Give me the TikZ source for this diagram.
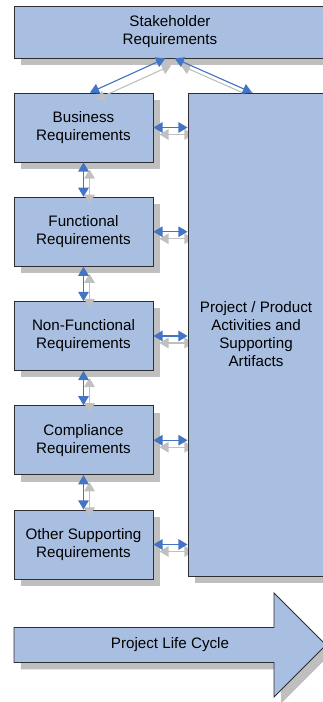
\documentclass[tikz,border=0pt]{standalone}
\usepackage{fontspec}
\setmainfont{Liberation Sans}
\usetikzlibrary{positioning}
\usetikzlibrary{arrows.meta}
\usetikzlibrary{shadows}
\definecolor{boxblue}{RGB}{169,191,226}
\definecolor{boxline}{RGB}{45,45,50}
\definecolor{shadowgrey}{RGB}{191,191,191}
\definecolor{linkblue}{RGB}{68,116,196}
\definecolor{ghostgrey}{RGB}{192,192,192}
\pgfdeclarelayer{front}
\pgfsetlayers{main,front}

\begin{document}
\begin{tikzpicture}[
    req/.style={draw=boxline, fill=boxblue, line width=0.6pt, align=center,
        minimum width=3.475cm, minimum height=1.725cm, inner sep=1pt,
        font=\fontsize{10.8}{12.8}\selectfont,
        drop shadow={shadow xshift=0.17cm, shadow yshift=-0.17cm, fill=shadowgrey, opacity=1}},
    link/.style={{Triangle[length=6.5pt,width=7.5pt]}-{Triangle[length=6.5pt,width=7.5pt]},
        draw=linkblue, line width=0.8pt},
    ghost/.style={link, draw=ghostgrey, transform canvas={xshift=0.15cm, yshift=-0.175cm}}]
        \useasboundingbox (0,0) rectangle (8.05,-17.55);

        \node[req, minimum width=7.8cm, minimum height=1.3cm] (stake) at (4.25,-0.8) {Stakeholder\\Requirements};
        \node[req] (bus) at (2.0875,-3.1875) {Business\\Requirements};
        \node[req, below=0.86cm of bus] (func) {Functional\\Requirements};
        \node[req, below=0.86cm of func] (nonf) {Non-Functional\\Requirements};
        \node[req, below=0.86cm of nonf] (comp) {Compliance\\Requirements};
        \node[req, below=0.86cm of comp] (other) {Other Supporting\\Requirements};
        \begin{pgfonlayer}{front}
            \node[req, minimum width=3.4cm, minimum height=12.075cm] (proj) at (6.4,-8.3625)
                {Project / Product\\Activities and\\Supporting\\Artifacts};
        \end{pgfonlayer}

        % life cycle arrow
        \path[draw=boxline, fill=boxblue, line width=0.6pt,
            drop shadow={shadow xshift=0.17cm, shadow yshift=-0.17cm, fill=shadowgrey, opacity=1}]
            (0.35,-15.6875) -- (6.85,-15.6875) -- (6.85,-14.825) -- (8.15,-16.125)
            -- (6.85,-17.425) -- (6.85,-16.5625) -- (0.35,-16.5625) -- cycle;
        \node[font=\fontsize{10.8}{12.8}\selectfont] (cycle) at (4.25,-16.125) {Project Life Cycle};

        % grey copies
        \draw[ghost] ([xshift=-0.12cm]stake.south) -- ([xshift=0.16cm]bus.north);
        \draw[ghost] ([xshift=0.12cm]stake.south) -- ([xshift=-0.1cm]proj.north);
        \foreach \a/\b in {bus/func, func/nonf, nonf/comp, comp/other}
            \draw[ghost] (\a.south) -- (\b.north);
        \foreach \a in {bus, func, nonf, comp, other}
            \draw[ghost] (\a.east) -- (\a.east -| proj.west);

        \begin{pgfonlayer}{front}
            \draw[link] ([xshift=-0.12cm]stake.south) -- ([xshift=0.16cm]bus.north);
            \draw[link] ([xshift=0.12cm]stake.south) -- ([xshift=-0.1cm]proj.north);
            \foreach \a/\b in {bus/func, func/nonf, nonf/comp, comp/other}
                \draw[link] (\a.south) -- (\b.north);
            \foreach \a in {bus, func, nonf, comp, other}
                \draw[link] (\a.east) -- (\a.east -| proj.west);
        \end{pgfonlayer}
    \end{tikzpicture}
\end{document}
